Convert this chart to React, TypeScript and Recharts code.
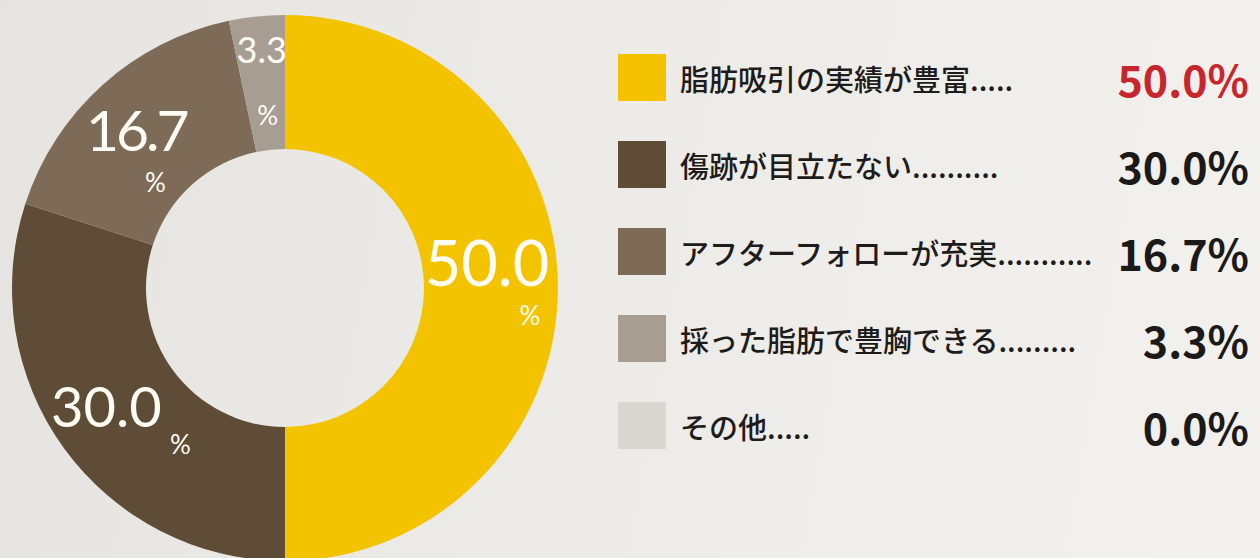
import React from 'react';
import { PieChart, Pie, Cell, Legend } from 'recharts';

// answers and their share (%)
const categories = [
  '脂肪吸引の実績が豊富.....',
  '傷跡が目立たない..........',
  'アフターフォローが充実...........',
  '採った脂肪で豊胸できる.........',
  'その他.....',
];
const shares = [50.0, 30.0, 16.7, 3.3, 0.0];

const colors = ['#f3c300', '#5f4c36', '#7e6b57', '#a79d92', '#d9d7d1'];
const valueColors = ['#c8262d', '#1c1a18', '#1c1a18', '#1c1a18', '#1c1a18'];

// per-slice tweak for the white labels inside the ring
const labelLayout = [
  { nx: -4, ny: -27, size: 63, spacing: 0, px: 39, py: 27 },
  { nx: -12, ny: -4, size: 56, spacing: 0, px: 62, py: 35 },
  { nx: -11, ny: -6, size: 57, spacing: -3, px: 8, py: 47 },
  { nx: -2, ny: -34, size: 36, spacing: 0, px: 4, py: 32 },
];

const data = categories.map((name, i) => ({ name, value: shares[i] }));

const RADIAN = Math.PI / 180;

const renderLabel = (props: any) => {
  const { cx, cy, midAngle, innerRadius, outerRadius, index, value } = props;
  if (!value || !labelLayout[index]) return null;
  const l = labelLayout[index];
  const r = (innerRadius + outerRadius) / 2;
  const x = cx + r * Math.cos(-midAngle * RADIAN);
  const y = cy + r * Math.sin(-midAngle * RADIAN);
  return (
    <g>
      <text
        x={x + l.nx}
        y={y + l.ny}
        fill="#fffdf6"
        textAnchor="middle"
        dominantBaseline="central"
        fontFamily="Lato, 'Open Sans', sans-serif"
        fontWeight={400}
        fontSize={l.size}
        letterSpacing={l.spacing}
      >
        {value.toFixed(1)}
      </text>
      <text
        x={x + l.px}
        y={y + l.py}
        fill="#fffdf6"
        textAnchor="middle"
        dominantBaseline="central"
        fontFamily="Lato, 'Open Sans', sans-serif"
        fontSize={26}
      >
        %
      </text>
    </g>
  );
};

const renderLegend = () => (
  <div style={{ position: 'relative', width: 660, height: 558 }}>
    {categories.map((name, i) => {
      const top = 77.5 + i * 87 - 24;
      return (
        <div key={name} style={{ position: 'absolute', left: 0, top, width: 660, height: 48 }}>
          <div
            style={{
              position: 'absolute',
              left: 18,
              top: 0,
              width: 48,
              height: 47,
              background: colors[i],
            }}
          />
          <div
            style={{
              position: 'absolute',
              left: 80,
              top: 0,
              height: 48,
              lineHeight: '48px',
              fontFamily: "'Noto Sans CJK JP', sans-serif",
              fontSize: 29,
              fontWeight: 500,
              color: '#1e1c1a',
              whiteSpace: 'nowrap',
            }}
          >
            {name}
          </div>
          <div
            style={{
              position: 'absolute',
              right: 11,
              top: 0,
              height: 48,
              lineHeight: '48px',
              fontFamily: "'Noto Sans CJK JP', sans-serif",
              fontSize: 43,
              fontWeight: 700,
              color: valueColors[i],
              whiteSpace: 'nowrap',
            }}
          >
            {shares[i].toFixed(1)}%
          </div>
        </div>
      );
    })}
  </div>
);

export default function App() {
  return (
    <div
      style={{
        position: 'absolute',
        left: 0,
        top: 0,
        width: 1260,
        height: 558,
        overflow: 'hidden',
        background: 'linear-gradient(100deg, #e6e4e0 0%, #eceae6 40%, #f3f1ee 100%)',
      }}
    >
      <PieChart width={1260} height={558} margin={{ top: 0, right: 0, bottom: 0, left: 0 }}>
        <Pie
          data={data}
          dataKey="value"
          nameKey="name"
          cx={285}
          cy={288}
          innerRadius={139}
          outerRadius={273}
          startAngle={90}
          endAngle={-270}
          stroke="none"
          labelLine={false}
          label={renderLabel}
          isAnimationActive={false}
        >
          {data.map((d, i) => (
            <Cell key={d.name} fill={colors[i]} />
          ))}
        </Pie>
        <Legend
          content={renderLegend}
          wrapperStyle={{ position: 'absolute', left: 600, top: 0, width: 660, height: 558 }}
        />
      </PieChart>
    </div>
  );
}
